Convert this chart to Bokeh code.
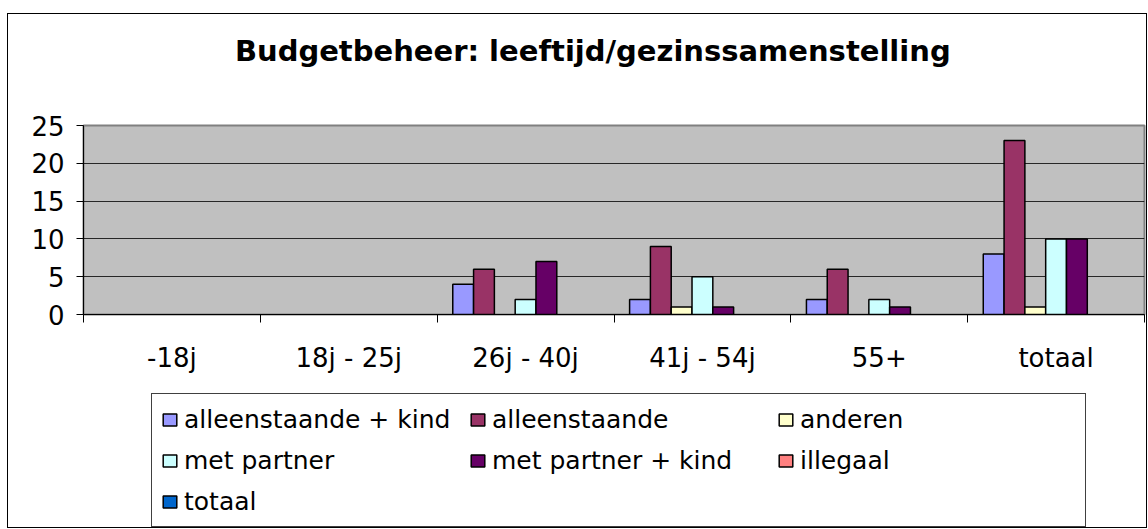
from bokeh.plotting import figure
from bokeh.layouts import column
from bokeh.models import Range1d, FixedTicker, Legend, LegendItem, Label
from bokeh.embed import file_html
from bokeh.resources import INLINE

# ---- data ----
title_text = "Budgetbeheer: leeftijd/gezinssamenstelling"
categories = ["-18j", "18j - 25j", "26j - 40j", "41j - 54j", "55+", "totaal"]
series_names = ["alleenstaande + kind", "alleenstaande", "anderen", "met partner",
                "met partner + kind", "illegaal", "totaal"]
alleenstaande_kind = [0, 0, 4, 2, 2, 8]
alleenstaande = [0, 0, 6, 9, 6, 23]
anderen = [0, 0, 0, 1, 0, 1]
met_partner = [0, 0, 2, 5, 2, 10]
met_partner_kind = [0, 0, 7, 1, 1, 10]
illegaal = [0, 0, 0, 0, 0, 0]
totaal = [0, 0, 0, 0, 0, 0]
series_values = [alleenstaande_kind, alleenstaande, anderen, met_partner,
                 met_partner_kind, illegaal, totaal]
colors = ["#9999FF", "#993366", "#FFFFCC", "#CCFFFF", "#660066", "#FF8080", "#0066CC"]
y_ticks = [0, 5, 10, 15, 20, 25]

FONT = "DejaVu Sans"
n_cat = len(categories)
n_ser = len(series_names)
gap = 1.5
bw = 1.0 / (n_ser + gap)
W = 1138


def blank(fig):
    fig.xgrid.visible = False
    fig.ygrid.visible = False
    fig.outline_line_color = None
    fig.background_fill_color = "#FFFFFF"
    fig.border_fill_color = "#FFFFFF"


# ---------------- title strip ----------------
t = figure(width=W, height=75, output_backend="svg", toolbar_location=None,
           x_range=Range1d(0, 1), y_range=Range1d(0, 75),
           x_axis_location=None, y_axis_location=None,
           min_border=0, min_border_left=0, min_border_right=0,
           min_border_top=0, min_border_bottom=0)
blank(t)
t.add_layout(Label(x=0.48, y=39, text=title_text, text_font=FONT,
                   text_font_style="bold", text_font_size="29px",
                   text_align="center", text_baseline="middle",
                   text_color="#000000"))

# ---------------- chart ----------------
p = figure(width=W, height=297, output_backend="svg", toolbar_location=None,
           x_range=Range1d(0, n_cat), y_range=Range1d(0, 25),
           min_border_left=75, min_border_right=2, min_border_top=36,
           min_border_bottom=72)
p.background_fill_color = "#C0C0C0"
p.border_fill_color = "#FFFFFF"
p.outline_line_color = "#808080"
p.outline_line_width = 2

for j, (vals, col) in enumerate(zip(series_values, colors)):
    xs = [i + 0.5 + (j - (n_ser - 1) / 2) * bw for i in range(n_cat) if vals[i] > 0]
    tops = [v for v in vals if v > 0]
    if tops:
        p.vbar(x=xs, top=tops, bottom=0, width=bw, fill_color=col,
               line_color="#000000", line_width=1.5)

ya = p.yaxis[0]
ya.ticker = FixedTicker(ticks=y_ticks)
ya.axis_line_color = "#000000"
ya.major_tick_in = 0
ya.major_tick_out = 7
ya.minor_tick_out = 0
ya.minor_tick_in = 0
ya.major_label_standoff = 12
ya.major_label_text_font = FONT
ya.major_label_text_font_size = "26px"
ya.major_label_text_color = "#000000"

xa = p.xaxis[0]
xa.ticker = FixedTicker(ticks=[i + 0.5 for i in range(n_cat)],
                        minor_ticks=list(range(n_cat + 1)))
xa.major_label_overrides = {i + 0.5: c for i, c in enumerate(categories)}
xa.axis_line_color = "#000000"
xa.major_tick_in = 0
xa.major_tick_out = 0
xa.minor_tick_in = 0
xa.minor_tick_out = 8
xa.minor_tick_line_color = "#000000"
xa.major_label_standoff = 20
xa.major_label_text_font = FONT
xa.major_label_text_font_size = "26px"
xa.major_label_text_color = "#000000"

p.xgrid.visible = False
p.ygrid.ticker = FixedTicker(ticks=y_ticks)
p.ygrid.grid_line_color = "#000000"
p.ygrid.grid_line_alpha = 0.8
p.ygrid.grid_line_width = 1

# ---------------- legend strip ----------------
q = figure(width=W, height=141, output_backend="svg", toolbar_location=None,
           x_range=Range1d(0, 1), y_range=Range1d(1, 2),
           x_axis_location=None, y_axis_location=None,
           min_border=0, min_border_left=0, min_border_right=0,
           min_border_top=0, min_border_bottom=0)
blank(q)

items = []
for name, col in zip(series_names, colors):
    # legend proxy, lies outside the visible range
    r = q.vbar(x=[0.5], top=[0], bottom=[0], width=bw, fill_color=col,
               line_color="#000000", line_width=1.5)
    items.append(LegendItem(label=name, renderers=[r]))

legend = Legend(items=items, location=(68, 0), orientation="horizontal", ncols=3,
                label_text_font=FONT, label_text_font_size="25px",
                label_text_color="#000000", glyph_width=17, glyph_height=15,
                label_standoff=6, label_width=276, label_height=32, spacing=9,
                padding=9, border_line_color="#404040", border_line_width=1,
                border_line_alpha=1.0, background_fill_color="#FFFFFF",
                background_fill_alpha=1.0)
q.add_layout(legend, "center")

layout = column(t, p, q, spacing=0)
layout.styles = {"border": "1px solid #000000", "position": "relative",
                 "left": "7px", "top": "13px"}

open("out.html", "w").write(file_html(layout, INLINE))
